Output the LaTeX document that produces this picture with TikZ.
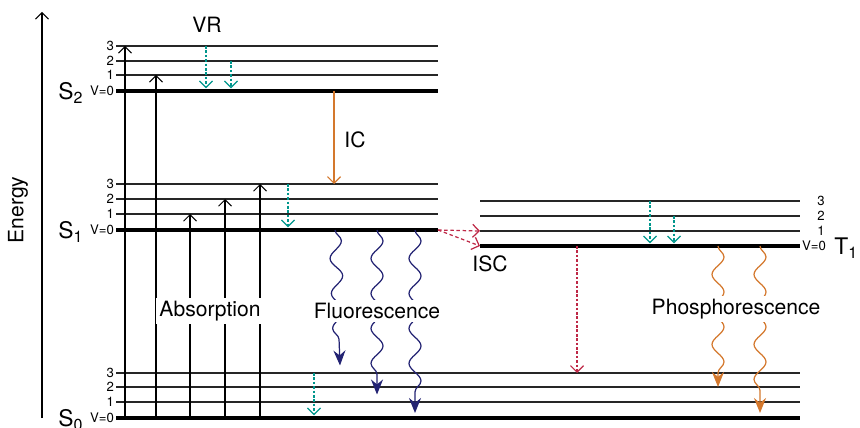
\documentclass[tikz,border=0pt]{standalone}
\usepackage{fontspec}
\setmainfont{TeX Gyre Heros}
\usetikzlibrary{arrows.meta,decorations.pathmorphing,positioning}
\definecolor{vrteal}{RGB}{0,150,140}
\definecolor{icorange}{RGB}{212,120,45}
\definecolor{iscred}{RGB}{190,40,70}
\definecolor{fluonavy}{RGB}{35,35,115}
\tikzset{
    % Vibrational level styles
    level/.style={draw=black!85, line width=0.9pt},
    groundlevel/.style={draw=black, line width=2.3pt},
    % Level label styles
    vlabel/.style={anchor=east, inner sep=1pt, font=\fontsize{7.5}{8}\selectfont},
    vlabelright/.style={inner sep=1pt, font=\fontsize{7.5}{8}\selectfont},
    statelabel/.style={inner sep=0pt, font=\fontsize{13}{15}\selectfont},
    % Process label style
    proclabel/.style={inner sep=2pt, font=\fontsize{12}{14}\selectfont},
    % Arrow styles
    absarrow/.style={draw=black, line width=0.6pt,
        -{Straight Barb[length=1.3mm,width=2.6mm]}},
    vrarrow/.style={draw=vrteal, line width=0.7pt, dash pattern=on 1.5pt off 1pt,
        shorten >=1.5pt, -{Straight Barb[length=1.3mm,width=2.6mm]}},
    icarrow/.style={draw=icorange, line width=0.7pt,
        -{Straight Barb[length=1.3mm,width=2.6mm]}},
    iscarrow/.style={draw=iscred, line width=0.7pt, dash pattern=on 2pt off 1.5pt,
        -{Straight Barb[length=1.3mm,width=2.6mm]}},
    fluowave/.style={draw=fluonavy, line width=0.7pt,
        decorate, decoration={snake, amplitude=1.2mm, segment length=7mm, post length=2mm},
        -{Stealth[length=3mm,width=2.4mm]}},
    phoswave/.style={draw=icorange, line width=0.7pt,
        decorate, decoration={snake, amplitude=1.2mm, segment length=7mm, post length=2mm},
        -{Stealth[length=3mm,width=2.4mm]}}
}
\begin{document}
\begin{tikzpicture}
\useasboundingbox (0,0) rectangle (17.2,8.54);

% Energy axis
\coordinate (ebot) at (0.84,0.18);
\coordinate (etop) at (0.84,8.3);
\draw[absarrow] (ebot) -- (etop);
\node[proclabel, rotate=90] (energy) at (0.36,4.34) {Energy};

% S2 levels
\draw[groundlevel] (2.32,6.72) coordinate (s2v0) -- (8.76,6.72);
\draw[level] (2.32,7.04) coordinate (s2v1) -- (8.76,7.04);
\draw[level] (2.32,7.32) coordinate (s2v2) -- (8.76,7.32);
\draw[level] (2.32,7.62) coordinate (s2v3) -- (8.76,7.62);

% S1 levels
\draw[groundlevel] (2.32,3.94) coordinate (s1v0) -- (8.76,3.94) coordinate (s1v0e);
\draw[level] (2.32,4.26) coordinate (s1v1) -- (8.76,4.26);
\draw[level] (2.32,4.56) coordinate (s1v2) -- (8.76,4.56);
\draw[level] (2.32,4.86) coordinate (s1v3) -- (8.76,4.86);

% T1 levels
\draw[groundlevel] (9.6,3.62) coordinate (t1v0) -- (16.0,3.62) coordinate (t1v0e);
\draw[level] (9.6,3.92) coordinate (t1v1) -- (16.0,3.92) coordinate (t1v1e);
\draw[level] (9.6,4.22) coordinate (t1v2) -- (16.0,4.22) coordinate (t1v2e);
\draw[level] (9.6,4.52) coordinate (t1v3) -- (16.0,4.52) coordinate (t1v3e);

% S0 levels
\draw[groundlevel] (2.32,0.18) coordinate (s0v0) -- (16.0,0.18);
\draw[level] (2.32,0.50) coordinate (s0v1) -- (16.0,0.50);
\draw[level] (2.32,0.80) coordinate (s0v2) -- (16.0,0.80);
\draw[level] (2.32,1.08) coordinate (s0v3) -- (16.0,1.08);

% Level numbers
\node[vlabel] (s2n0) at (s2v0) {V=0};
\node[vlabel] (s2n1) at (s2v1) {1};
\node[vlabel] (s2n2) at (s2v2) {2};
\node[vlabel] (s2n3) at (s2v3) {3};
\node[vlabel] (s1n0) at (s1v0) {V=0};
\node[vlabel] (s1n1) at (s1v1) {1};
\node[vlabel] (s1n2) at (s1v2) {2};
\node[vlabel] (s1n3) at (s1v3) {3};
\node[vlabel] (s0n0) at (s0v0) {V=0};
\node[vlabel] (s0n1) at (s0v1) {1};
\node[vlabel] (s0n2) at (s0v2) {2};
\node[vlabel] (s0n3) at (s0v3) {3};
\node[vlabelright, anchor=west] (t1n0) at (t1v0e) {V=0};
\node[vlabelright] (t1n1) at ([xshift=4.2mm]t1v1e) {1};
\node[vlabelright] (t1n2) at ([xshift=4.2mm]t1v2e) {2};
\node[vlabelright] (t1n3) at ([xshift=4.2mm]t1v3e) {3};

% State names
\node[statelabel] (s2name) at (1.42,6.68) {S\textsubscript{2}};
\node[statelabel] (s1name) at (1.42,3.90) {S\textsubscript{1}};
\node[statelabel] (s0name) at (1.42,0.14) {S\textsubscript{0}};
\node[statelabel, anchor=west] (t1name) at (16.68,3.58) {T\textsubscript{1}};

% Absorption
\coordinate (ab1) at (2.5,0);
\coordinate (ab2) at (3.12,0);
\coordinate (ab3) at (3.8,0);
\coordinate (ab4) at (4.5,0);
\coordinate (ab5) at (5.2,0);
\draw[absarrow] (ab1 |- s0v0) -- (ab1 |- s2v3);
\draw[absarrow] (ab2 |- s0v0) -- (ab2 |- s2v1);
\draw[absarrow] (ab3 |- s0v0) -- (ab3 |- s1v1);
\draw[absarrow] (ab4 |- s0v0) -- (ab4 |- s1v2);
\draw[absarrow] (ab5 |- s0v0) -- (ab5 |- s1v3);

% Vibrational relaxation
\coordinate (vr1) at (4.12,0);
\coordinate (vr2) at (4.62,0);
\coordinate (vr3) at (5.76,0);
\coordinate (vr4) at (13.0,0);
\coordinate (vr5) at (13.48,0);
\coordinate (vr6) at (6.28,0);
\draw[vrarrow] (vr1 |- s2v3) -- (vr1 |- s2v0);
\draw[vrarrow] (vr2 |- s2v2) -- (vr2 |- s2v0);
\draw[vrarrow] (vr3 |- s1v3) -- (vr3 |- s1v0);
\draw[vrarrow] (vr4 |- t1v3) -- (vr4 |- t1v0);
\draw[vrarrow] (vr5 |- t1v2) -- (vr5 |- t1v0);
\draw[vrarrow] (vr6 |- s0v3) -- (vr6 |- s0v0);

% Internal conversion
\coordinate (ic) at (6.68,0);
\draw[icarrow] (ic |- s2v0) -- (ic |- s1v3);

% Intersystem crossing
\coordinate (isc) at (11.54,0);
\draw[iscarrow] (s1v0e) -- (t1v1);
\draw[iscarrow] (s1v0e) -- (t1v0);
\draw[iscarrow, dash pattern=on 1.5pt off 1pt] (isc |- t1v0) -- (isc |- s0v3);

% Fluorescence
\coordinate (fl1) at (6.7,0);
\coordinate (fl2) at (7.54,0);
\coordinate (fl3) at (8.3,0);
\draw[fluowave] (fl1 |- s1v0) -- ([xshift=1mm,yshift=1.5mm]fl1 |- s0v3);
\draw[fluowave] (fl2 |- s1v0) -- ([yshift=1.5mm]fl2 |- s0v1);
\draw[fluowave] (fl3 |- s1v0) -- ([yshift=1mm]fl3 |- s0v0);

% Phosphorescence
\coordinate (ph1) at (14.36,0);
\coordinate (ph2) at (15.2,0);
\draw[phoswave] (ph1 |- t1v0) -- (ph1 |- s0v2);
\draw[phoswave] (ph2 |- t1v0) -- ([yshift=1mm]ph2 |- s0v0);

% Process labels
\node[proclabel] (vr) at (4.14,8.04) {VR};
\node[proclabel] (iclabel) at (7.1,5.74) {IC};
\node[proclabel] (isclabel) at (9.8,3.26) {ISC};
\node[proclabel, fill=white] (absorption) at (4.2,2.32) {Absorption};
\node[proclabel, fill=white] (fluorescence) at (7.54,2.32) {Fluorescence};
\node[proclabel, fill=white] (phosphorescence) at (14.72,2.36) {Phosphorescence};

\end{tikzpicture}
\end{document}
